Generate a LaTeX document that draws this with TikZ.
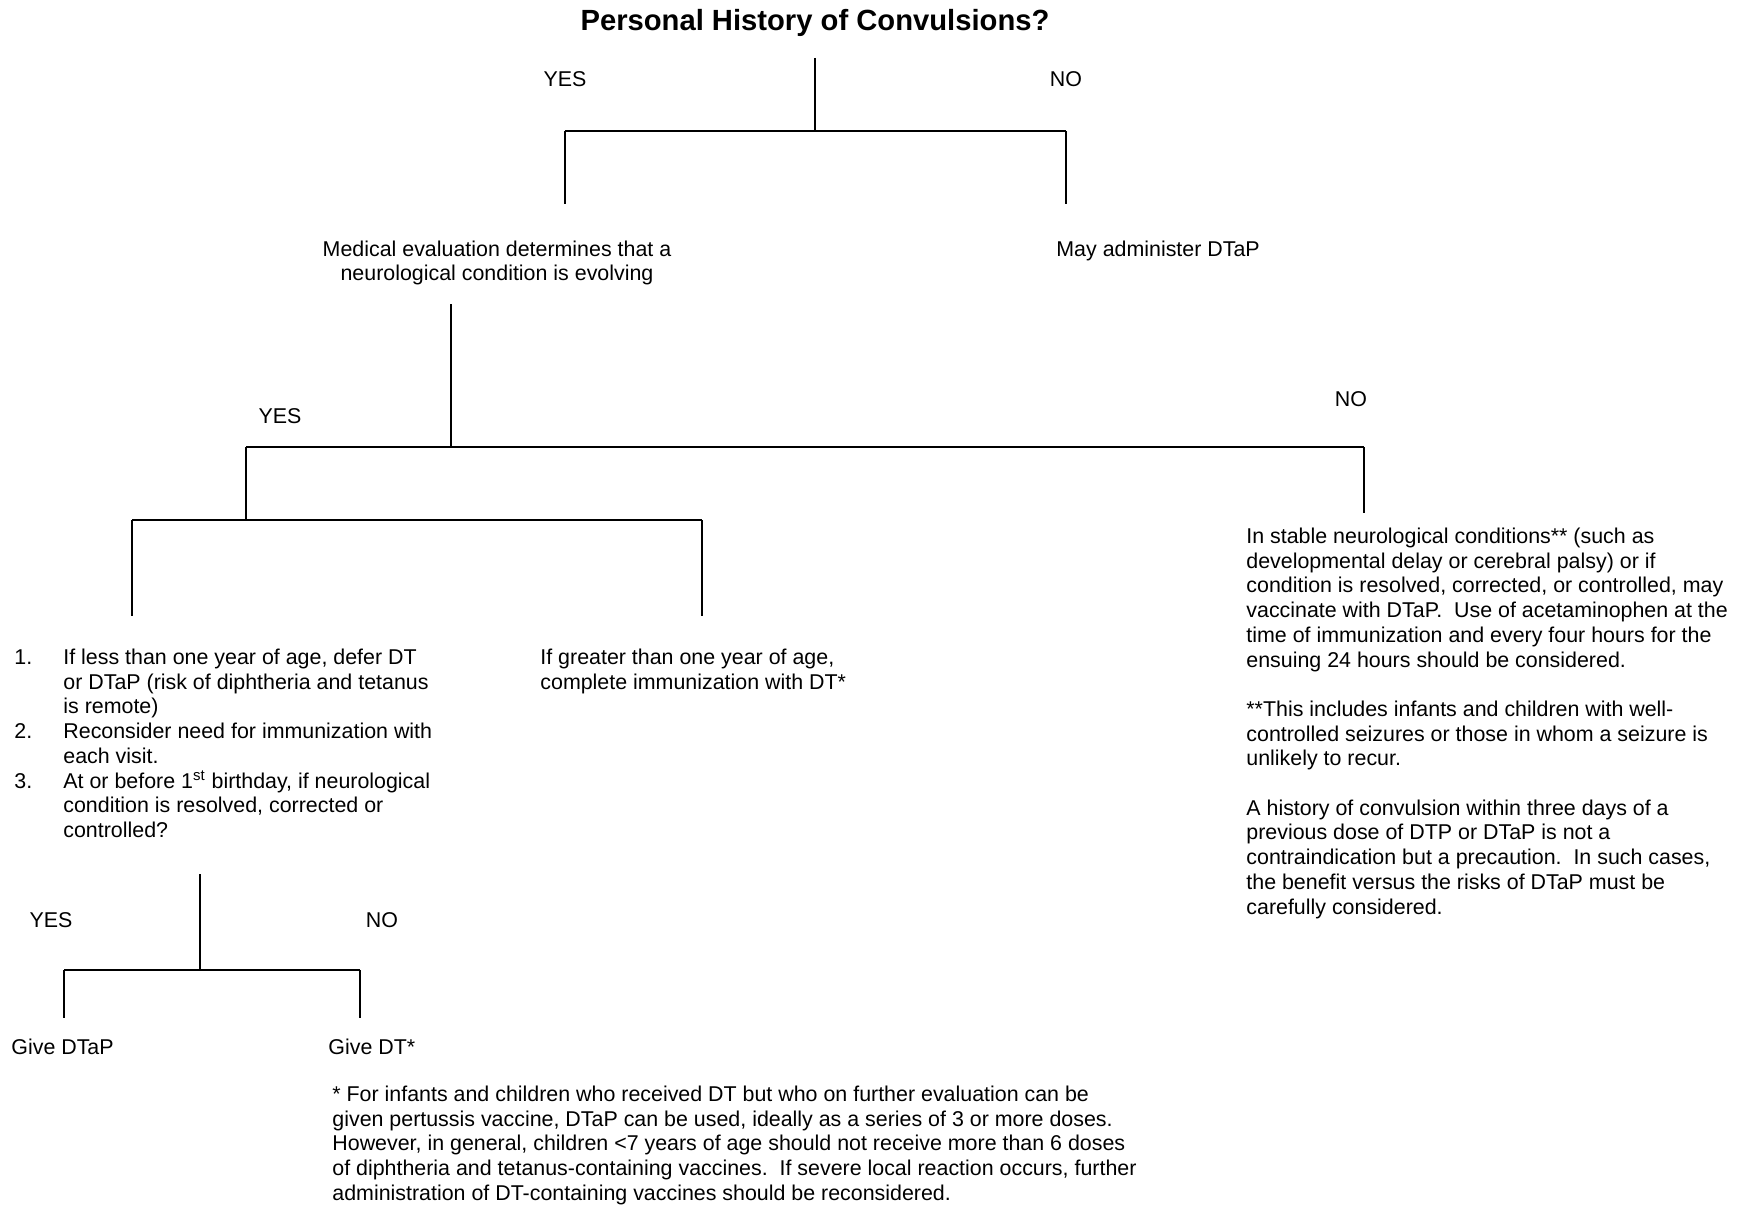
\documentclass[tikz,border=0pt]{standalone}
\usepackage{fontspec}
\setmainfont{Liberation Sans}
\newcommand\bodyfont{\fontsize{10.7}{12.35}\selectfont}
\newcommand\mlines[1]{\begin{tabular}[t]{@{}l@{}}#1\end{tabular}}
\newcommand\mclines[1]{\begin{tabular}[t]{@{}c@{}}#1\end{tabular}}
\begin{document}
\begin{tikzpicture}[x=0.5pt,y=-0.5pt,
  txt/.style={anchor=base west, inner sep=0pt, font=\bodyfont},
  ctxt/.style={anchor=base, inner sep=0pt, font=\bodyfont},
  vline/.style={line width=0.55pt},
  hline/.style={line width=1.1pt},
  titlestyle/.style={anchor=base, inner sep=0pt, font=\fontsize{14.6}{16}\selectfont\bfseries}]
\useasboundingbox[fill=white] (0,0) rectangle (1754,1204);

% title
\node[titlestyle] (title) at (815,31) {Personal History of Convulsions?};

% first split
\coordinate (t0) at (815,58);
\coordinate (j1) at (815,131);
\coordinate (a1) at (565,131);
\coordinate (b1) at (1066,131);
\coordinate (a1e) at (565,204);
\coordinate (b1e) at (1066,204);
\draw[vline] (t0) -- (j1);
\draw[hline] (a1) -- (b1);
\draw[vline] (a1) -- (a1e);
\draw[vline] (b1) -- (b1e);
\node[ctxt] (yes1) at (565,87) {YES};
\node[ctxt] (no1) at (1066,87) {NO};

\node[ctxt] (medeval) at (497,256) {\mclines{Medical evaluation determines that a\\ neurological condition is evolving}};
\node[txt] (mayadmin) at (1056,256) {May administer DTaP};

% second split
\coordinate (m0) at (451,304);
\coordinate (j2) at (451,447);
\coordinate (a2) at (246,447);
\coordinate (b2) at (1364,447);
\coordinate (a2e) at (246,520);
\coordinate (b2e) at (1364,513);
\draw[vline] (m0) -- (j2);
\draw[hline] (a2) -- (b2);
\draw[vline] (a2) -- (a2e);
\draw[vline] (b2) -- (b2e);
\node[ctxt] (yes2) at (280,423.5) {YES};
\node[ctxt] (no2) at (1351,406) {NO};

% third split
\coordinate (c3a) at (132,520);
\coordinate (c3b) at (702,520);
\coordinate (c3ae) at (132,616);
\coordinate (c3be) at (702,616);
\draw[hline] (c3a) -- (c3b);
\draw[vline] (c3a) -- (c3ae);
\draw[vline] (c3b) -- (c3be);

% numbered list
\node[txt] (n1) at (14,664.5) {1.};
\node[txt] (n2) at (14,738.6) {2.};
\node[txt] (n3) at (14,788) {3.};
\node[txt] (list) at (63,664.5) {\mlines{If less than one year of age, defer DT\\
or DTaP (risk of diphtheria and tetanus\\
is remote)\\
Reconsider need for immunization with\\
each visit.\\
At or before 1\smash{\textsuperscript{st}} birthday, if neurological\\
condition is resolved, corrected or\\
controlled?}};

\node[txt] (greater) at (540,664.5) {\mlines{If greater than one year of age,\\
complete immunization with DT*}};

% right block
\node[txt] (stable) at (1246,543.5) {\mlines{In stable neurological conditions** (such as\\
developmental delay or cerebral palsy) or if\\
condition is resolved, corrected, or controlled, may\\
vaccinate with DTaP.\ \ Use of acetaminophen at the\\
time of immunization and every four hours for the\\
ensuing 24 hours should be considered.\\
{}\\
{}**This includes infants and children with well-\\
controlled seizures or those in whom a seizure is\\
unlikely to recur.\\
{}\\
A history of convulsion within three days of a\\
previous dose of DTP or DTaP is not a\\
contraindication but a precaution.\ \ In such cases,\\
the benefit versus the risks of DTaP must be\\
carefully considered.}};

% fourth split
\coordinate (s0) at (200,874);
\coordinate (j4) at (200,970);
\coordinate (a4) at (64,970);
\coordinate (b4) at (360,970);
\coordinate (a4e) at (64,1018);
\coordinate (b4e) at (360,1018);
\draw[vline] (s0) -- (j4);
\draw[hline] (a4) -- (b4);
\draw[vline] (a4) -- (a4e);
\draw[vline] (b4) -- (b4e);
\node[ctxt] (yes3) at (51,927) {YES};
\node[ctxt] (no3) at (382,927) {NO};

\node[txt] (givedtap) at (11,1054) {Give DTaP};
\node[txt] (givedt) at (328,1054) {Give DT*};

% footnote
\node[txt] (foot) at (332,1101.5) {\mlines{{}* For infants and children who received DT but who on further evaluation can be\\
given pertussis vaccine, DTaP can be used, ideally as a series of 3 or more doses.\\
However, in general, children <7 years of age should not receive more than 6 doses\\
of diphtheria and tetanus-containing vaccines.\ \ If severe local reaction occurs, further\\
administration of DT-containing vaccines should be reconsidered.}};
\end{tikzpicture}
\end{document}
